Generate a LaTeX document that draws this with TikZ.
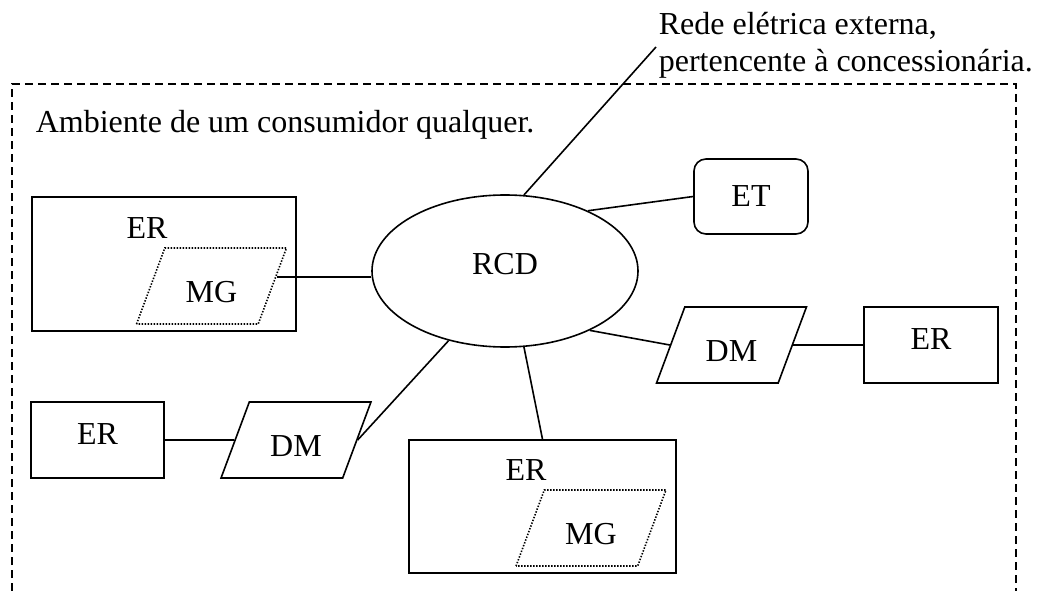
\documentclass[tikz,border=0pt]{standalone}
\usepackage{fontspec}
\setmainfont{Liberation Serif}
\usetikzlibrary{shapes.geometric}
\begin{document}
\begin{tikzpicture}[x=1pt, y=-1pt, line width=1.6pt,
  font=\fontsize{32}{38}\selectfont,
  erbox/.style={draw, rectangle, inner sep=0pt, text depth=12pt},
  para/.style={draw, trapezium, trapezium left angle=64, trapezium right angle=116,
    trapezium stretches=true, minimum width=151pt, minimum height=76pt, inner sep=0pt,
    text height=32pt, text depth=0pt},
  mgpara/.style={para, dash pattern=on 1.4pt off 1.6pt},
  lbl/.style={inner sep=0pt, anchor=base west}]
\useasboundingbox (0,0) rectangle (1037,591);
\draw[line width=2.3pt, dash pattern=on 8pt off 5pt] (12,591) -- (12,84) -- (1016,84) -- (1016,591);
\node[lbl] (amb) at (35,133) {Ambiente de um consumidor qualquer.};
\node[lbl] (rede1) at (658,35) {Rede elétrica externa,};
\node[lbl] (rede2) at (658,72) {pertencente à concessionária.};
\coordinate (ext) at (656,47);
\node[draw, ellipse, minimum width=266pt, minimum height=152pt, inner sep=0pt, text depth=14pt] (rcd) at (505,271) {RCD};
\draw (rcd.76) -- (ext);
\node[draw, rectangle, rounded corners=12pt, minimum width=114pt, minimum height=75pt] (et) at (751,196.5) {ET};
\draw (rcd.36) -- (et.west);
\node[erbox, minimum width=264pt, minimum height=134pt] (er1) at (164,264) {};
\node[inner sep=0pt] (er1t) at (147,228) {ER};
\node[mgpara] (mg1) at (211.5,286) {MG};
\draw (mg1.8) -- (mg1.8 -| rcd.west);
\node[para] (dm2) at (731.5,345) {DM};
\node[erbox, minimum width=134pt, minimum height=76pt] (er2) at (931,345) {ER};
\draw (rcd.-35) -- (dm2.west);
\draw (dm2.east) -- (er2.west);
\node[erbox, minimum width=133pt, minimum height=76pt] (er3) at (97.5,440) {ER};
\node[para] (dm1) at (296,440) {DM};
\draw (er3.east) -- (dm1.west);
\draw (dm1.east) -- (rcd.-129);
\node[erbox, minimum width=267pt, minimum height=133pt] (er4) at (542.5,506.5) {};
\node[inner sep=0pt] (er4t) at (526,470) {ER};
\node[mgpara] (mg2) at (591,528) {MG};
\draw (rcd.-76) -- (er4.north);
\end{tikzpicture}
\end{document}
